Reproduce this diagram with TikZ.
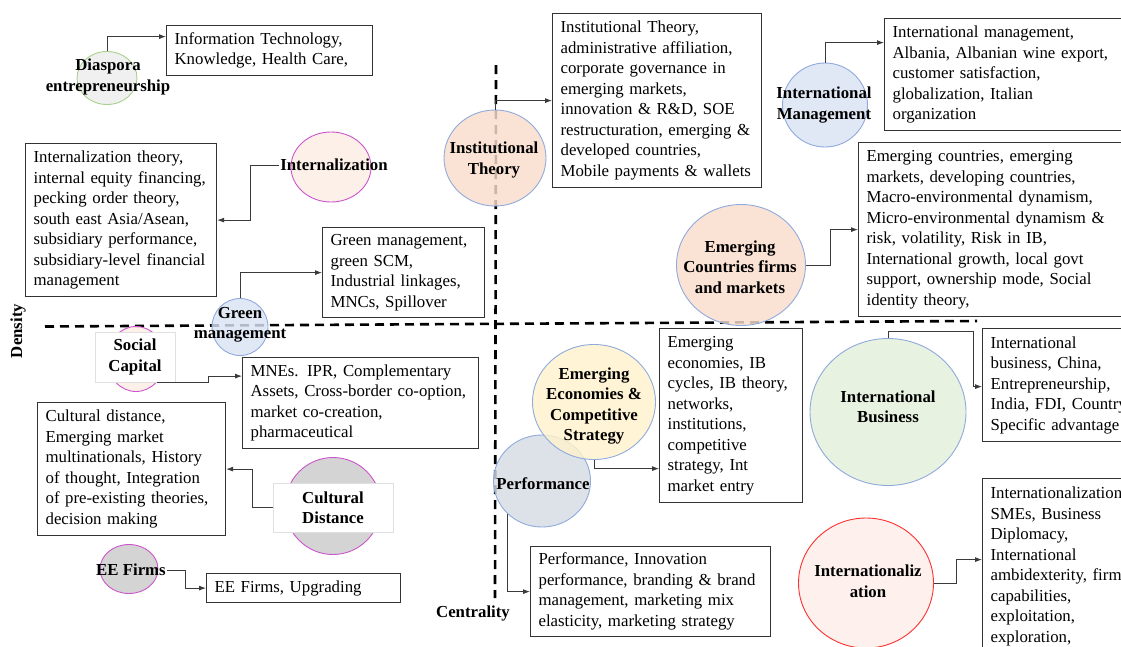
\documentclass[tikz,border=0pt]{standalone}
\usepackage{fontspec}
\setmainfont{Liberation Serif}
\usetikzlibrary{shapes.geometric,arrows.meta}
\definecolor{boxc}{HTML}{333333}
\definecolor{connc}{HTML}{3A3A3A}
\definecolor{peach}{HTML}{F9DCCB}
\definecolor{lpeach}{HTML}{FCEDE3}
\definecolor{lblue}{HTML}{DAE3F3}
\definecolor{lgreen}{HTML}{E2EFDA}
\definecolor{lyellow}{HTML}{FFF2CC}
\definecolor{perf}{HTML}{D6DCE4}
\definecolor{gry}{HTML}{CACACA}
\definecolor{lgry}{HTML}{EDEDED}
\definecolor{pink}{HTML}{FCEDE9}
\definecolor{bblue}{HTML}{8FAADC}
\definecolor{bmag}{HTML}{CC55CC}
\definecolor{bgreen}{HTML}{A9D18E}
\definecolor{bred}{HTML}{FF3030}
\newcommand\bxfont{\fontsize{16.8}{20.5}\selectfont}
\newcommand\lbfont{\fontsize{16.8}{20.5}\selectfont\bfseries}
\begin{document}
\begin{tikzpicture}[x=1pt,y=-1pt,
  box/.style={draw=boxc, line width=1.2pt, fill=white, inner xsep=8pt, inner ysep=3pt, align=left, font=\bxfont, anchor=north west},
  bub/.style={ellipse, line width=0.9pt, inner sep=0pt, fill opacity=0.82},
  lab/.style={font=\lbfont, align=center, inner sep=1pt},
  wlab/.style={lab, fill=white, draw=black!12, line width=0.8pt},
  conn/.style={draw=connc, line width=0.8pt, -{Latex[length=7pt,width=5pt]}},
  axisline/.style={line width=2.6pt, dash pattern=on 9pt off 6pt}]
\useasboundingbox (0,0) rectangle (1121,646);
\clip (0,0) rectangle (1121,646);

% axes
\coordinate (hl) at (45,326.5);
\coordinate (hr) at (977,321);
\coordinate (vt) at (496,65);
\coordinate (vb) at (495,598);
\draw[axisline] (hl) -- (hr);
\draw[axisline] (vt) -- (vb);
\node[lab, rotate=90] (dens) at (18,331) {Density};
\node[lab] (cent) at (473,613) {Centrality};

% bubbles
\node[bub, fill=lgry, draw=bgreen, minimum width=60pt, minimum height=53pt] (c1) at (107,78) {};
\node[bub, fill=lpeach, draw=bmag, minimum width=80pt, minimum height=70pt] (c2) at (331,167) {};
\node[bub, fill=lblue, draw=bblue, minimum width=56pt, minimum height=57pt] (c3) at (240,327) {};
\node[bub, fill=peach, draw=bblue, minimum width=102pt, minimum height=96pt] (c4) at (495,158) {};
\node[bub, fill=lblue, draw=bblue, minimum width=85pt, minimum height=84pt] (c5) at (825,105) {};
\node[bub, fill=peach, draw=bblue, minimum width=129pt, minimum height=121pt] (c6) at (741,265) {};
\node[bub, fill=lpeach, draw=bmag, minimum width=58pt, minimum height=65pt] (c7) at (136,359) {};
\node[bub, fill=gry, draw=bmag, minimum width=96pt, minimum height=97pt] (c8) at (333,506) {};
\node[bub, fill=gry, draw=bmag, minimum width=58pt, minimum height=49pt] (c9) at (129,569) {};
\node[bub, fill=perf, draw=bblue, minimum width=97pt, minimum height=92pt] (c11) at (542,481) {};
\node[bub, fill=lyellow, draw=bblue, minimum width=123pt, minimum height=115pt] (c10) at (594,402) {};
\node[bub, fill=lgreen, draw=bblue, minimum width=156pt, minimum height=147pt] (c12) at (888,412) {};
\node[bub, fill=pink, draw=bred, minimum width=135pt, minimum height=130pt] (c13) at (866,583) {};

% labels
\node[lab] (t1) at (108,77) {Diaspora\\entrepreneurship};
\node[lab] (t2) at (334,165) {Internalization};
\node[lab] (t3) at (240,325) {Green\\management};
\node[lab] (t4) at (494,160) {Institutional\\Theory};
\node[lab] (t5) at (824,105) {International\\Management};
\node[lab] (t6) at (740,267) {Emerging\\Countries firms\\and markets};
\node[wlab, minimum width=80pt, minimum height=50pt] (t7) at (135,357) {Social\\Capital};
\node[wlab, minimum width=120pt, minimum height=49pt] (t8) at (333,507.5) {Cultural\\Distance};
\node[lab] (t9) at (131,570) {EE Firms};
\node[lab] (t10) at (594,406) {Emerging\\Economies \&\\Competitive\\Strategy};
\node[lab] (t11) at (543,484) {Performance};
\node[lab] (t12) at (888,407) {International\\Business};
\node[lab] (t13) at (868,581) {Internationaliz\\ation};

% boxes
\node[box, text width=190pt, minimum height=50pt] (b1) at (166,25) {Information Technology,\\Knowledge, Health Care,};
\node[box, text width=175pt, minimum height=153pt] (b2) at (25,143) {Internalization theory,\\internal equity financing,\\pecking order theory,\\south east Asia/Asean,\\subsidiary performance,\\subsidiary-level financial\\management};
\node[box, text width=146pt, minimum height=90pt] (b3) at (322,227) {Green management,\\green SCM,\\Industrial linkages,\\MNCs, Spillover};
\node[box, text width=193pt, minimum height=174pt] (b4) at (552,13) {Institutional Theory,\\administrative affiliation,\\corporate governance in\\emerging markets,\\innovation \& R\&D, SOE\\restructuration, emerging \&\\developed countries,\\Mobile payments \& wallets};
\node[box, text width=235pt, minimum height=112pt] (b5) at (884,18) {International management,\\Albania, Albanian wine export,\\customer satisfaction,\\globalization, Italian\\organization};
\node[box, text width=261pt, minimum height=174pt] (b6) at (858,142) {Emerging countries, emerging\\markets, developing countries,\\Macro-environmental dynamism,\\Micro-environmental dynamism \&\\risk, volatility, Risk in IB,\\International growth, local govt\\support, ownership mode, Social\\identity theory,};
\node[box, text width=220pt, minimum height=91pt] (b7) at (242,357) {MNEs. IPR, Complementary\\Assets, Cross-border co-option,\\market co-creation,\\pharmaceutical};
\node[box, text width=172pt, minimum height=133pt] (b8) at (37,402) {Cultural distance,\\Emerging market\\multinationals, History\\of thought, Integration\\of pre-existing theories,\\decision making};
\node[box, text width=178pt, minimum height=29pt] (b9) at (206,573) {EE Firms, Upgrading};
\node[box, text width=127pt, minimum height=174pt] (b10) at (659,328) {Emerging\\economies, IB\\cycles, IB theory,\\networks,\\institutions,\\competitive\\strategy, Int\\market entry};
\node[box, text width=224pt, minimum height=90pt] (b11) at (530,546) {Performance, Innovation\\performance, branding \& brand\\management, marketing mix\\elasticity, marketing strategy};
\node[box, text width=160pt, minimum height=113pt] (b12) at (982,328) {International\\business, China,\\Entrepreneurship,\\India, FDI, Country\\Specific advantage};
\node[box, text width=160pt, minimum height=176pt] (b13) at (982,478) {Internationalization,\\SMEs, Business\\Diplomacy,\\International\\ambidexterity, firm\\capabilities,\\exploitation,\\exploration,};

% connectors
\draw[conn] (c1.north) |- ([yshift=14pt]b1.west);
\draw[conn] (t2.west) -- ++(-29,0) |- (b2.east);
\draw[conn] (c3.north) |- (b3.west);
\draw[conn] (c4.north) |- (b4.west);
\draw[conn] (c5.north) |- ([yshift=32pt]b5.west);
\draw[conn] (c6.east) -- ++(24,0) |- (b6.west);
\draw[conn] (c7.south east) -- ++(52,0) |- ([yshift=27pt]b7.west);
\draw[conn] (t8.west) -- ++(-20,0) |- (b8.east);
\draw[conn] (t9.east) -- ++(18,0) |- (b9.west);
\draw[conn] (c10.south) |- ([yshift=-53pt]b10.west);
\draw[conn] (c11.south west) |- (b11.west);
\draw[conn] (c12.north) -- ++(0,-7) -- ++(85,0) |- ([yshift=-1.5pt]b12.west);
\draw[conn] (c13.east) -- ++(22,0) |- ([yshift=7pt]b13.west);
\end{tikzpicture}
\end{document}
